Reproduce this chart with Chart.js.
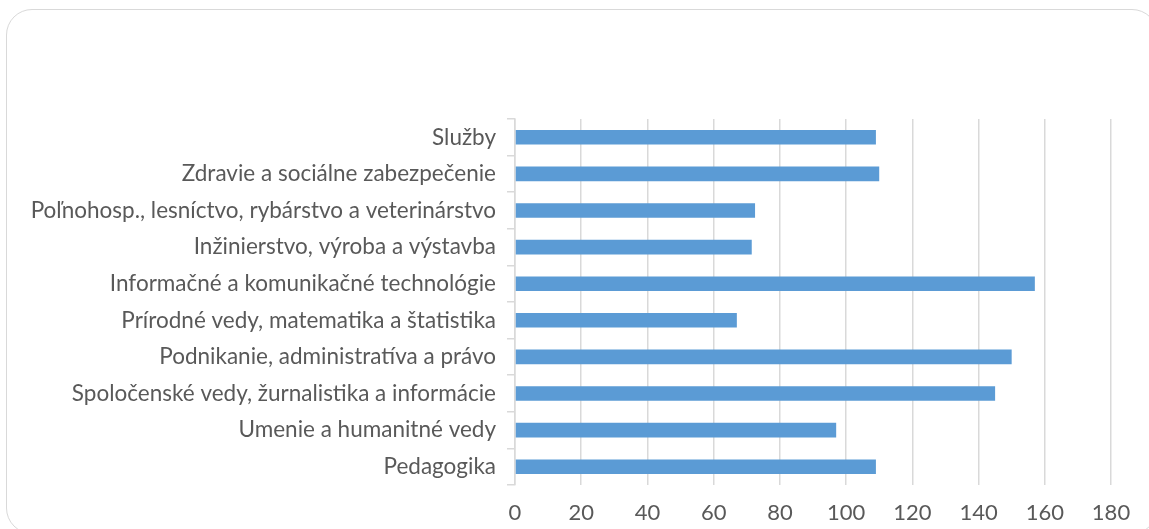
<!DOCTYPE html>
<html>
<head>
<meta charset="utf-8">
<script src="https://cdn.jsdelivr.net/npm/chart.js@4"></script>
<style>
  html, body { margin: 0; padding: 0; background: #fff; overflow: hidden; }
  #wrap { position: relative; width: 1149px; height: 529px; }
  #frame {
    position: absolute; left: 6px; top: 9px; width: 1152px; height: 525px;
    border: 1.5px solid #d9d9d9; border-radius: 26px; box-sizing: border-box;
  }
  canvas { position: absolute; left: 0; top: 0; }
</style>
</head>
<body>
<div id="wrap">
  <div id="frame"></div>
  <canvas id="chart" width="1149" height="529"></canvas>
</div>
<script>
const categories = [
  "Služby",
  "Zdravie a sociálne zabezpečenie",
  "Poľnohosp., lesníctvo, rybárstvo a veterinárstvo",
  "Inžinierstvo, výroba a výstavba",
  "Informačné a komunikačné technológie",
  "Prírodné vedy, matematika a štatistika",
  "Podnikanie, administratíva a právo",
  "Spoločenské vedy, žurnalistika a informácie",
  "Umenie a humanitné vedy",
  "Pedagogika"
];
const values = [109, 110, 72.5, 71.5, 157, 67, 150, 145, 97, 109];
const xTicks = [0, 20, 40, 60, 80, 100, 120, 140, 160, 180];

const catFont = { family: "Lato", size: 22.5 };
const numFont = { family: "Lato", size: 22 };

new Chart(document.getElementById("chart"), {
  type: 'bar',
  data: {
    labels: categories,
    datasets: [{
      data: values,
      backgroundColor: '#5b9bd5',
      borderWidth: 0,
      barPercentage: 0.4,
      categoryPercentage: 1
    }]
  },
  options: {
    indexAxis: 'y',
    responsive: false,
    animation: false,
    layout: { padding: { top: 119, right: 38, left: 0, bottom: 0 } },
    plugins: { legend: { display: false }, tooltip: { enabled: false } },
    scales: {
      x: {
        min: 0,
        max: 180,
        afterBuildTicks: (axis) => { axis.ticks = xTicks.map(v => ({ value: v })); },
        afterFit: (axis) => { axis.height = 44; },
        grid: { color: '#d9d9d9', lineWidth: 1.5, drawTicks: false },
        border: { display: false },
        ticks: { color: '#595959', font: numFont, padding: 15 }
      },
      y: {
        afterFit: (axis) => { axis.width = 515; },
        grid: { drawOnChartArea: false, drawTicks: true, tickLength: 8, color: '#d9d9d9', lineWidth: 1.5 },
        border: { display: true, color: '#d9d9d9', width: 1.5 },
        ticks: { color: '#595959', font: catFont, padding: 11, autoSkip: false }
      }
    }
  }
});
</script>
</body>
</html>
